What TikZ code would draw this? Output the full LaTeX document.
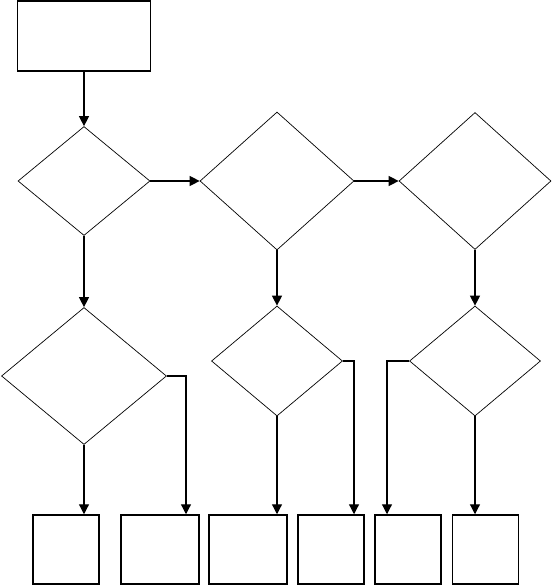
\documentclass[tikz,border=0pt]{standalone}
\usetikzlibrary{shapes.geometric,arrows.meta}
\begin{document}
\begin{tikzpicture}[x=1pt,y=-1pt,
    box/.style={draw,line width=1.5pt,inner sep=0pt},
    cond/.style={draw,diamond,line width=0.7pt,inner sep=0pt},
    flow/.style={line width=1.2pt,-{Triangle[width=10pt,length=10pt]}}]
    \useasboundingbox (0,0) rectangle (553,585);

    % 起始框
    \node[box,minimum width=133pt,minimum height=70pt] (start) at (84,36) {};

    % 第一行判断
    \node[cond,minimum width=132pt,minimum height=109pt] (d1) at (84,181) {};
    \node[cond,minimum width=154pt,minimum height=138pt] (d2) at (277,181) {};
    \node[cond,minimum width=152pt,minimum height=137pt] (d3) at (475,181) {};

    % 第二行判断
    \node[cond,minimum width=165pt,minimum height=137pt] (d4) at (84,376) {};
    \node[cond,minimum width=131pt,minimum height=110pt] (d5) at (277,361) {};
    \node[cond,minimum width=131pt,minimum height=110pt] (d6) at (475,361) {};

    % 底部结果框
    \node[box,minimum width=66pt,minimum height=69pt] (b1) at (66,549.5) {};
    \node[box,minimum width=78pt,minimum height=69pt] (b2) at (160,549.5) {};
    \node[box,minimum width=78pt,minimum height=69pt] (b3) at (248,549.5) {};
    \node[box,minimum width=66pt,minimum height=69pt] (b4) at (331,549.5) {};
    \node[box,minimum width=66pt,minimum height=69pt] (b5) at (408,549.5) {};
    \node[box,minimum width=66pt,minimum height=69pt] (b6) at (485.5,549.5) {};

    % 连线
    \draw[flow] (start) -- (d1);
    \draw[flow] (d1) -- (d2);
    \draw[flow] (d2) -- (d3);
    \draw[flow] (d1) -- (d4);
    \draw[flow] (d2) -- (d5);
    \draw[flow] (d3) -- (d6);
    \draw[flow] (d4.south) -- (d4.south |- b1.north);
    \draw[flow] (d4.east) -| ([xshift=26pt]b2.north);
    \draw[flow] (d5.south) -- (d5.south |- b3.north);
    \draw[flow] (d5.east) -| ([xshift=23pt]b4.north);
    \draw[flow] (d6.west) -| ([xshift=-21pt]b5.north);
    \draw[flow] (d6.south) -- (d6.south |- b6.north);

\end{tikzpicture}
\end{document}
